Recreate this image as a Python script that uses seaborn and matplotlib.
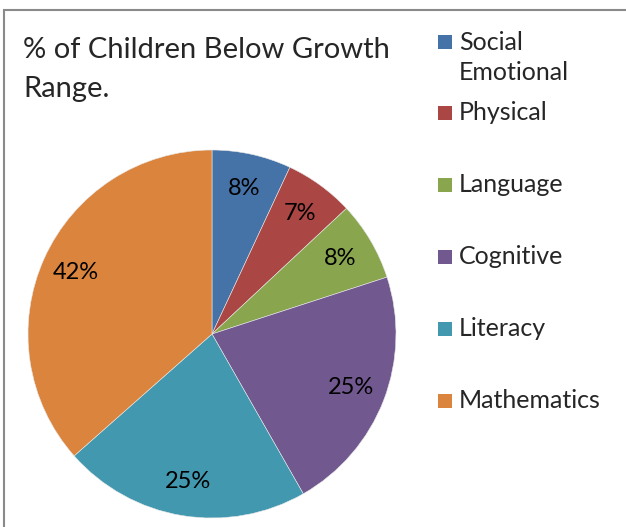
import matplotlib
matplotlib.use("Agg")
import matplotlib.pyplot as plt
from matplotlib.patches import Rectangle
import seaborn as sns
import numpy as np

# data (labels show the raw values with a % sign)
areas = ["Social\nEmotional", "Physical", "Language", "Cognitive", "Literacy", "Mathematics"]
values = [8, 7, 8, 25, 25, 42]
colors = ["#4572A7", "#AA4643", "#89A54E", "#71588F", "#4198AF", "#DB843D"]

sns.set_style("white")
plt.rcParams["font.family"] = ["Lato", "DejaVu Sans"]

W, H = 626, 527
fig = plt.figure(figsize=(W / 100, H / 100), dpi=100)

# frame of the excel chart area (only top and left edges are visible)
fig.patches.append(Rectangle((4 / W, -0.1), 1.2, 1.1 - 10 / H, transform=fig.transFigure,
                             fill=False, edgecolor="#8a8a8a", linewidth=1.5))

# pie: centre (212, 334), radius 184 px
ax = fig.add_axes([28 / W, 9 / H, 368 / W, 368 / H])
pal = sns.color_palette(colors)
wedges, texts = ax.pie(values, colors=pal, startangle=90, counterclock=False,
                       radius=1, wedgeprops=dict(edgecolor="#e8e8e8", linewidth=0.4))
# value labels inside the slices
total = sum(values)
cum = 0
for v in values:
    mid = (cum + v / 2) / total
    ang = np.pi / 2 - 2 * np.pi * mid
    ax.text(0.81 * np.cos(ang), 0.81 * np.sin(ang), f"{v}%", ha="center", va="center",
            fontsize=17, color="black")
    cum += v
ax.set_xlim(-1, 1)
ax.set_ylim(-1, 1)
ax.set_aspect("equal")
ax.axis("off")

# title
fig.text(23 / W, 1 - 50 / H, "% of Children Below Growth", fontsize=21, ha="left", va="center")
fig.text(23 / W, 1 - 89 / H, "Range.", fontsize=21, ha="left", va="center")

# legend drawn by hand to mimic the excel spacing
y = 42
for name, c in zip(areas, pal):
    fig.patches.append(Rectangle((438 / W, 1 - (y + 7) / H), 14 / W, 14 / H,
                                 transform=fig.transFigure, facecolor=c, edgecolor="none"))
    fig.text(459 / W, 1 - y / H, name.split("\n")[0], fontsize=18, ha="left", va="center")
    if "\n" in name:
        fig.text(459 / W, 1 - (y + 31) / H, name.split("\n")[1], fontsize=18, ha="left", va="center")
        y += 71
    else:
        y += 72

fig.savefig("out.png", dpi=100)
